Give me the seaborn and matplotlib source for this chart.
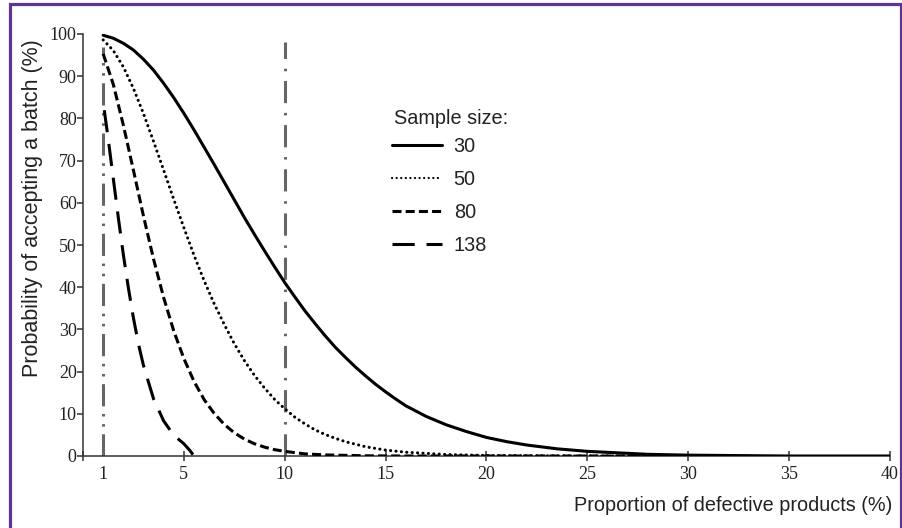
import numpy as np
import pandas as pd
import matplotlib.pyplot as plt
import seaborn as sns
from matplotlib.patches import Rectangle

# Operating characteristic curves
x_30 = [1, 1.5, 2, 2.5, 3, 3.5, 4, 4.5, 5, 5.5, 6, 6.5, 7, 7.5, 8, 8.5, 9, 9.5, 10, 10.5,
        11, 11.5, 12, 12.5, 13, 13.5, 14, 14.5, 15, 15.5, 16, 17, 18, 19, 20, 21, 22,
        23.5, 25, 28, 30, 35, 40]
y_30 = [99.7, 99.0, 97.8, 96.2, 94.0, 91.4, 88.3, 84.9, 81.2, 77.3, 73.2, 69.1, 64.9,
        60.7, 56.5, 52.5, 48.6, 44.8, 41.1, 37.7, 34.4, 31.4, 28.5, 25.8, 23.4, 21.1,
        19.0, 17.0, 15.2, 13.5, 11.9, 9.4, 7.4, 5.8, 4.4, 3.4, 2.6, 1.7, 1.1, 0.4,
        0.2, 0.0, 0.0]

x_50 = [1, 1.5, 2, 2.5, 3, 3.5, 4, 4.5, 5, 5.5, 6, 6.5, 7, 7.5, 8, 8.5, 9, 9.5, 10, 10.5,
        11, 11.5, 12, 12.5, 13, 14, 15, 16, 18, 20, 25, 30]
y_50 = [98.6, 96.1, 92.2, 87.1, 81.1, 74.5, 67.7, 60.8, 54.1, 47.6, 41.6, 36.1, 31.2,
        26.6, 22.6, 19.1, 16.1, 13.4, 11.2, 9.2, 7.6, 6.2, 5.1, 4.2, 3.4, 2.2, 1.4,
        0.9, 0.35, 0.13, 0.0, 0.0]

x_80 = [1, 1.5, 2, 2.5, 3, 3.5, 4, 4.5, 5, 5.5, 6, 6.5, 7, 7.5, 8, 8.5, 9, 9.5, 10, 11,
        12, 14, 16, 20, 28]
y_80 = [95.3, 88.1, 78.4, 67.7, 56.8, 46.6, 37.5, 29.6, 23.1, 17.7, 13.4, 10.1, 7.5,
        5.5, 4.0, 2.9, 2.1, 1.5, 1.1, 0.5, 0.26, 0.05, 0.0, 0.0, 0.0]

x_138 = [1, 1.25, 1.5, 1.75, 2, 2.25, 2.5, 2.75, 3, 3.5, 4, 4.5, 5, 5.3, 5.5]
y_138 = [83.9, 75.1, 65.8, 56.5, 47.7, 39.8, 32.7, 26.5, 21.4, 13.5, 8.3, 4.9, 2.9,
         1.3, 0.0]

sample_sizes = [30, 50, 80, 138]

# vertical reference lines
ref_x = [1, 10]
ref_top = [97, 98]

x_ticks = [0, 5, 10, 15, 20, 25, 30, 35, 40]
y_ticks = list(range(0, 101, 10))

# long-form table for seaborn
frames = []
for n, xs, ys in zip(sample_sizes, [x_30, x_50, x_80, x_138], [y_30, y_50, y_80, y_138]):
    frames.append(pd.DataFrame({'defect': xs, 'accept': ys, 'n': n}))
df = pd.concat(frames, ignore_index=True)

sns.set_style('ticks')
plt.rcParams['font.family'] = ['Liberation Sans', 'DejaVu Sans']
plt.rcParams['lines.scale_dashes'] = False

fig = plt.figure(figsize=(9.03, 5.28), dpi=100)
ax = fig.add_axes([83 / 903, 1 - 456 / 528, 807 / 903, 422 / 528])

# reference lines behind the curves
ax.plot([ref_x[0], ref_x[0]], [0, ref_top[0]], color='#666666', lw=2.2,
        dashes=(16, 5.5, 1.8, 5.5, 1.8, 5.5), zorder=1)
ax.plot([ref_x[1], ref_x[1]], [0, ref_top[1]], color='#666666', lw=2.2,
        dashes=(16, 7, 1.8, 7), zorder=1)

dash_map = {30: '', 50: (0.1, 3.8), 80: (6.5, 3), 138: (16, 8.5)}
sns.lineplot(data=df, x='defect', y='accept', style='n', dashes=dash_map,
             color='black', linewidth=2.2, ax=ax, zorder=3, legend=True)

for line in ax.get_lines():
    npts = len(line.get_xdata())
    if npts == len(x_50):
        line.set_dash_capstyle('round')
    elif npts == len(x_138):
        # shift the dash pattern so the last dash reaches the axis
        line.set_linestyle((18.5, (16, 8.5)))

handles, labels = ax.get_legend_handles_labels()
keep = [(h, l) for h, l in zip(handles, labels) if l in [str(s) for s in sample_sizes]]
for h, l in keep:
    if l == '50':
        h.set_dash_capstyle('round')
        h.set_linewidth(1.6)
        h.set_dashes((0.1, 3.2))

leg = ax.legend([h for h, l in keep], [l for h, l in keep],
                loc='upper left', bbox_to_anchor=(0.383, 0.757), frameon=False,
                fontsize=14.3, handlelength=2.5,
                handletextpad=0.6, labelspacing=0.72, borderpad=0, borderaxespad=0)
for t in leg.get_texts():
    t.set_color('#222222')
ax.text(0.3854, (456 - 118) / 422, 'Sample size:', transform=ax.transAxes,
        fontsize=14.3, color='#222222', ha='left', va='center')

ax.set_xlim(0, 40)
ax.set_ylim(0, 100)
ax.set_xticks(x_ticks)
ax.set_xticklabels([''] + [str(t) for t in x_ticks[1:]])
ax.set_xticks([1], minor=True)
ax.set_xticklabels(['1'], minor=True)
ax.set_yticks(y_ticks)
ax.set_yticklabels([str(t) for t in y_ticks])

serif = ['Liberation Serif', 'DejaVu Serif']
for lab in ax.get_xticklabels() + ax.get_xticklabels(minor=True) + ax.get_yticklabels():
    lab.set_fontfamily(serif)
    lab.set_fontsize(13)
    lab.set_color('#222222')

ax.tick_params(axis='x', which='major', direction='inout', length=7, width=1.1,
               color='#333333', pad=4)
ax.tick_params(axis='x', which='minor', length=0, pad=7.5)
ax.tick_params(axis='y', direction='out', length=4, width=1.1, color='#333333', pad=0.5)

sns.despine(ax=ax)
for s in ['left', 'bottom']:
    ax.spines[s].set_linewidth(1.1)
    ax.spines[s].set_color('#333333')

ax.set_xlabel('Proportion of defective products (%)', fontsize=14.3, color='#222222',
              ha='right')
ax.xaxis.set_label_coords(1.003, -0.095)
ax.set_ylabel('Probability of accepting a batch (%)', fontsize=15.5, color='#222222')
ax.yaxis.set_label_coords(-0.0496, 0.588)

# purple frame around the figure, open at the bottom
fig.patches.append(Rectangle((10.5 / 903, -0.05), (901.5 - 10.5) / 903, 1.05 - 4 / 528,
                             transform=fig.transFigure, fill=False,
                             edgecolor='#5e3393', linewidth=2.3))

fig.savefig('out.png', dpi=100)
